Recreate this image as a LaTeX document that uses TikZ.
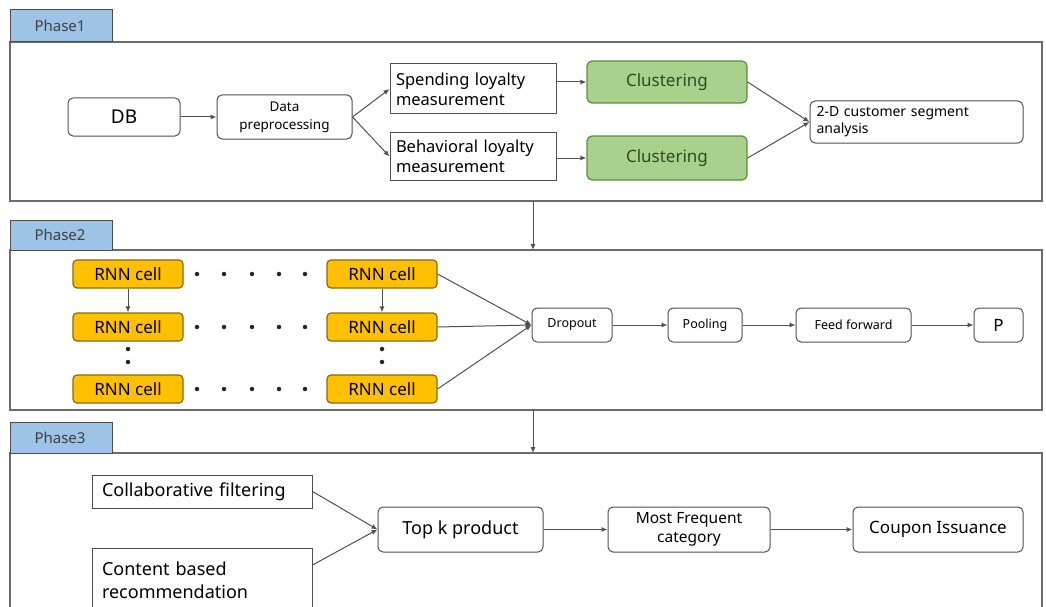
\documentclass[tikz,border=0pt]{standalone}
\usepackage{fontspec}
\setmainfont{Noto Sans}
\usetikzlibrary{arrows.meta}
\definecolor{tabblue}{HTML}{9DC3E6}
\definecolor{clgreen}{HTML}{A9D18E}
\definecolor{clgreenb}{HTML}{5E8A3E}
\definecolor{cltext}{HTML}{2E4A1E}
\definecolor{rnny}{HTML}{FFC000}
\definecolor{rnnb}{HTML}{8A6A00}
\definecolor{lineg}{HTML}{505050}
\tikzset{
  panel/.style={draw=gray!85!black, line width=1.3pt},
  tabbox/.style={draw=gray!60!black, line width=1pt, fill=tabblue},
  rbox/.style={draw=lineg, line width=1pt, rounded corners=5pt, fill=white, align=center, inner sep=2pt},
  sbox/.style={draw=lineg, line width=1pt, fill=white, align=left, inner sep=5pt},
  gbox/.style={draw=clgreenb, line width=1.2pt, rounded corners=5pt, fill=clgreen, text=cltext},
  ybox/.style={draw=rnnb, line width=1.2pt, rounded corners=4pt, fill=rnny, inner sep=1pt},
  arr/.style={draw=lineg, line width=1pt, -{Latex[length=6pt,width=5pt]}},
  dot/.style={circle, fill=black!85, inner sep=0pt, minimum size=4.5pt},
  tablabel/.style={font=\fontsize{15}{17}\selectfont, text=black!75}
}
\begin{document}
\begin{tikzpicture}[x=1pt,y=-1pt]
\useasboundingbox (0,0) rectangle (1046,607);
\clip (0,0) rectangle (1046,607);
% Phase 1
\draw[panel] (10,42) rectangle (1042,201);
\draw[tabbox] (10,10) rectangle (112,42);
\node[tablabel] (p1) at (60,26) {Phase1};
\node[rbox, minimum width=112, minimum height=38, font=\fontsize{19}{21}\selectfont] (db) at (124,117) {DB};
\node[rbox, minimum width=135, minimum height=44, font=\fontsize{13.5}{18}\selectfont] (prep) at (284.5,117) {Data\\preprocessing};
\node[sbox, minimum width=166, minimum height=50, text width=154, font=\fontsize{16.5}{20}\selectfont] (spend) at (473,89) {Spending loyalty\\measurement};
\node[sbox, minimum width=166, minimum height=47, text width=154, font=\fontsize{16.5}{20}\selectfont] (behav) at (473,156.5) {Behavioral loyalty\\measurement};
\node[gbox, minimum width=160, minimum height=42, font=\fontsize{17}{19}\selectfont] (cl1) at (667,82) {Clustering};
\node[gbox, minimum width=160, minimum height=44, font=\fontsize{17}{19}\selectfont] (cl2) at (667,158) {Clustering};
\node[rbox, minimum width=213, minimum height=42, text width=200, align=left, font=\fontsize{14}{17}\selectfont] (seg) at (916.5,122) {2-D customer segment\\analysis};
\draw[arr] (db) -- (prep);
\draw[arr] (prep.east) -- (spend.west);
\draw[arr] (prep.east) -- (behav.west);
\draw[arr] (spend.east |- cl1) -- (cl1);
\draw[arr] (behav.east |- cl2) -- (cl2);
\draw[arr] (cl1.east) -- (seg.west);
\draw[arr] (cl2.east) -- (seg.west);
\coordinate (a1) at (533,201);
\coordinate (a2) at (533,250);
\draw[arr] (a1) -- (a2);
% Phase 2
\draw[panel] (10,250) rectangle (1042,410);
\draw[tabbox] (10,220) rectangle (112,250);
\node[tablabel] (p2) at (60,235) {Phase2};
\foreach \r/\y in {1/274,2/327,3/389}{
  \node[ybox, minimum width=110, minimum height=28, font=\fontsize{17}{19}\selectfont] (a\r) at (128,\y) {RNN cell};
  \node[ybox, minimum width=110, minimum height=28, font=\fontsize{17}{19}\selectfont] (b\r) at (382,\y) {RNN cell};
  \foreach \k/\x in {1/197,2/224,3/252,4/279,5/305}{
    \node[dot] (d\r\k) at (\x,\y) {};
  }
}
\node[dot] (va1) at (128,349) {};
\node[dot] (va2) at (128,362) {};
\node[dot] (vb1) at (382,349) {};
\node[dot] (vb2) at (382,362) {};
\draw[arr] (a1) -- (a2);
\draw[arr] (b1) -- (b2);
\node[rbox, minimum width=80, minimum height=34, font=\fontsize{12.5}{15}\selectfont] (drop) at (572,325) {Dropout};
\node[rbox, minimum width=74, minimum height=34, font=\fontsize{12.5}{15}\selectfont] (pool) at (705,325) {Pooling};
\node[rbox, minimum width=115, minimum height=34, font=\fontsize{12.5}{15}\selectfont] (ff) at (853.5,325) {Feed forward};
\node[rbox, minimum width=49, minimum height=34, font=\fontsize{17}{19}\selectfont] (pp) at (998.5,325) {P};
\draw[arr] (b1.east) -- (drop.west);
\draw[arr] (b2.east) -- (drop.west);
\draw[arr] (b3.east) -- (drop.west);
\draw[arr] (drop) -- (pool);
\draw[arr] (pool) -- (ff);
\draw[arr] (ff) -- (pp);
\coordinate (c1) at (533,410);
\coordinate (c2) at (533,453);
\draw[arr] (c1) -- (c2);
% Phase 3
\draw[panel] (10,453) rectangle (1042,625);
\draw[tabbox] (10,422) rectangle (112,453);
\node[tablabel] (p3) at (60,437.5) {Phase3};
\node[sbox, minimum width=220, minimum height=33, text width=200, inner xsep=10pt, font=\fontsize{18}{20}\selectfont] (collab) at (202,491.5) {Collaborative filtering};
\node[sbox, minimum width=220, minimum height=64, text width=200, inner xsep=10pt, font=\fontsize{18}{23}\selectfont, anchor=north] (content) at (202,548) {Content based\\recommendation};
\node[rbox, minimum width=165, minimum height=45, font=\fontsize{18}{20}\selectfont] (topk) at (460.5,529.5) {Top k product};
\node[rbox, minimum width=162, minimum height=45, font=\fontsize{15.5}{19}\selectfont] (mfc) at (689,529.5) {Most Frequent\\category};
\node[rbox, minimum width=170, minimum height=45, font=\fontsize{17}{19}\selectfont] (coupon) at (938,529.5) {Coupon Issuance};
\draw[arr] (collab.east) -- (topk.west);
\draw[arr] (content.east |- 0,565) -- (topk.west);
\draw[arr] (topk) -- (mfc);
\draw[arr] (mfc) -- (coupon);
\end{tikzpicture}
\end{document}
